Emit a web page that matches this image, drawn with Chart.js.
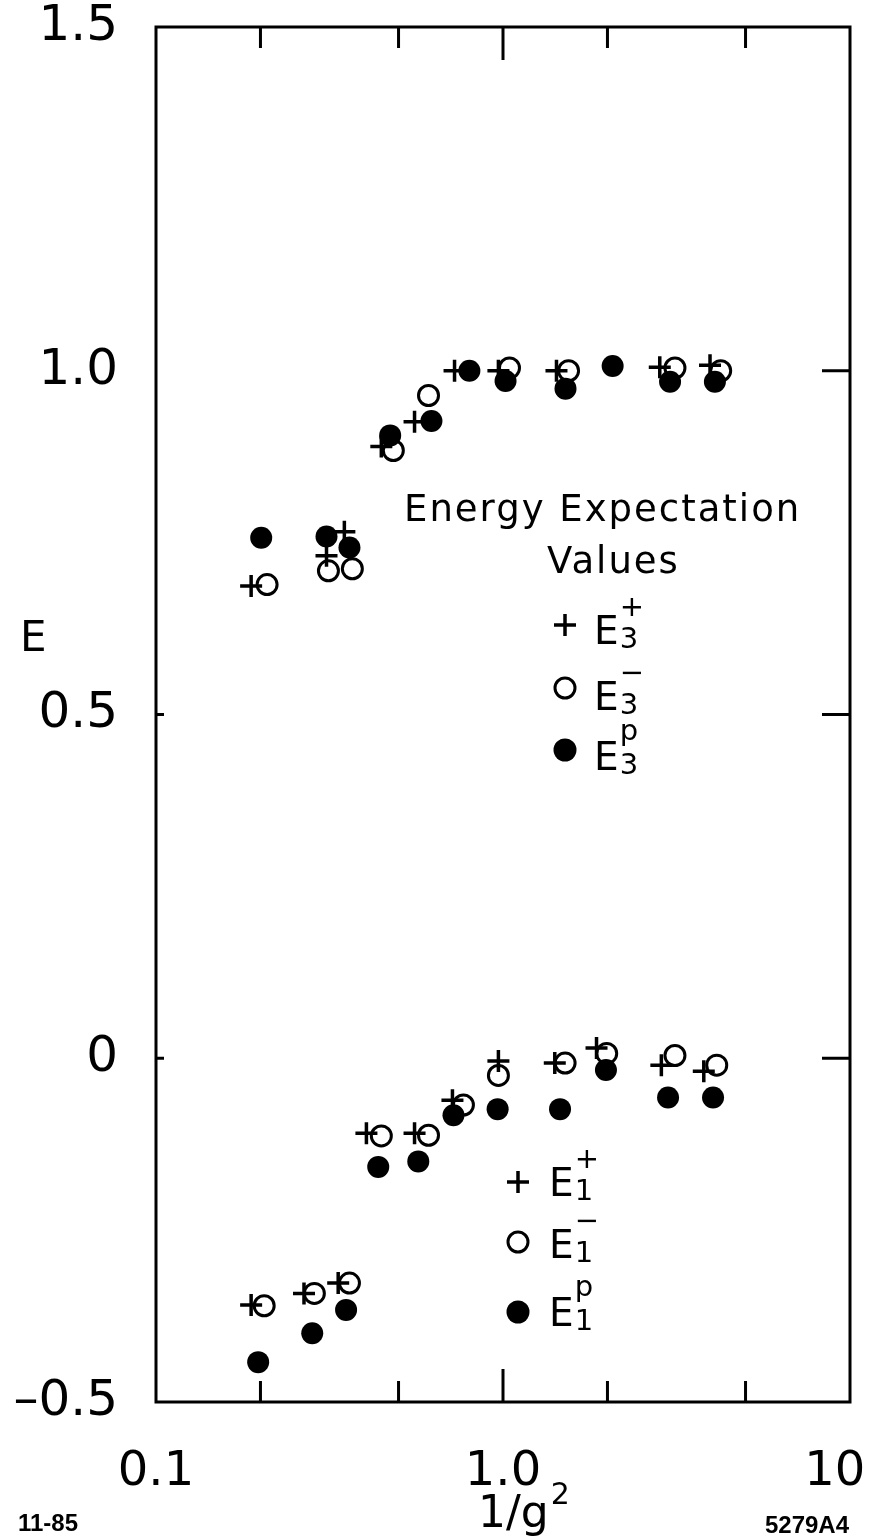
<!DOCTYPE html>
<html><head><meta charset="utf-8">
<script src="https://cdn.jsdelivr.net/npm/chart.js@4/dist/chart.umd.min.js"></script>
<style>html,body{margin:0;padding:0;background:#fff}canvas{display:block}</style>
</head><body>
<canvas id="c" width="871" height="1540"></canvas>
<script>
// ---- data ----
const e3PlusX  = [0.188, 0.310, 0.349, 0.446, 0.556, 0.725, 0.970, 1.426, 2.83, 3.95];
const e3PlusY  = [0.687, 0.731, 0.766, 0.890, 0.926, 1.000, 1.000, 1.000, 1.005, 1.008];
const e3MinusX = [0.209, 0.314, 0.368, 0.483, 0.610, 1.044, 1.545, 3.13, 4.24];
const e3MinusY = [0.689, 0.709, 0.712, 0.884, 0.964, 1.004, 1.000, 1.004, 1.000];
const e3PX     = [0.201, 0.310, 0.361, 0.473, 0.622, 0.800, 1.017, 1.514, 2.07, 3.03, 4.08];
const e3PY     = [0.757, 0.759, 0.743, 0.906, 0.927, 1.000, 0.985, 0.974, 1.007, 0.984, 0.984];

const e1PlusX  = [0.188, 0.267, 0.335, 0.404, 0.556, 0.715, 0.970, 1.41, 1.86, 2.86, 3.79];
const e1PlusY  = [-0.359, -0.342, -0.327, -0.109, -0.109, -0.061, -0.004, -0.007, 0.015, -0.010, -0.019];
const e1MinusX = [0.205, 0.286, 0.361, 0.446, 0.610, 0.769, 0.970, 1.51, 1.99, 3.13, 4.13];
const e1MinusY = [-0.360, -0.342, -0.327, -0.113, -0.112, -0.068, -0.025, -0.007, 0.007, 0.004, -0.010];
const e1PX     = [0.197, 0.282, 0.353, 0.437, 0.570, 0.720, 0.965, 1.46, 1.98, 2.99, 4.03];
const e1PY     = [-0.442, -0.400, -0.366, -0.158, -0.150, -0.083, -0.074, -0.074, -0.017, -0.057, -0.057];

const xTickValues  = [0.1, 0.2, 0.5, 1, 2, 5, 10];
const xMajorTicks  = [1];
const xLabelValues = [0.1, 1, 10];
const xLabelTexts  = ['0.1', '1.0', '10\u00a0\u00a0'];
const yTickValues  = [-0.5, 0, 0.5, 1, 1.5];
const yTickLabels  = ['\u20130.5', '0', '0.5', '1.0', '1.5'];
const yRightTicks  = [0, 0.5, 1];
const yLeftTicks   = [0, 0.5];

const legendTitle = ['Energy Expectation', 'Values'];
const legend3 = [{sym:'plus', sup:'+', sub:'3'}, {sym:'open', sup:'\u2212', sub:'3'}, {sym:'fill', sup:'p', sub:'3'}];
const legend1 = [{sym:'plus', sup:'+', sub:'1'}, {sym:'open', sup:'\u2212', sub:'1'}, {sym:'fill', sup:'p', sub:'1'}];

const pts = (xs, ys) => xs.map((x, i) => ({x, y: ys[i]}));
const FONT = "'DejaVu Sans', sans-serif";

const plusStyle = {pointStyle:'cross', pointRadius:11, borderWidth:3.5, borderColor:'#000', backgroundColor:'#000', order:0};
const openStyle = {pointStyle:'circle', pointRadius:10, borderWidth:3, borderColor:'#000', backgroundColor:'rgba(0,0,0,0)', order:2};
const fillStyle = {pointStyle:'circle', pointRadius:11, borderWidth:0, borderColor:'#000', backgroundColor:'#000', order:1};

function drawSym(ctx, sym, x, y) {
  ctx.save();
  ctx.strokeStyle = '#000'; ctx.fillStyle = '#000';
  if (sym === 'plus') {
    ctx.lineWidth = 3.5;
    ctx.beginPath(); ctx.moveTo(x - 11, y); ctx.lineTo(x + 11, y);
    ctx.moveTo(x, y - 11); ctx.lineTo(x, y + 11); ctx.stroke();
  } else if (sym === 'open') {
    ctx.lineWidth = 3;
    ctx.beginPath(); ctx.arc(x, y, 10, 0, Math.PI * 2); ctx.stroke();
  } else {
    ctx.beginPath(); ctx.arc(x, y, 11.5, 0, Math.PI * 2); ctx.fill();
  }
  ctx.restore();
}

function drawEntry(ctx, e, mx, my, ex, eTop) {
  drawSym(ctx, e.sym, mx, my);
  ctx.save();
  ctx.fillStyle = '#000';
  ctx.textBaseline = 'alphabetic';
  ctx.textAlign = 'left';
  ctx.font = '39px ' + FONT;
  const base = eTop + 29;
  ctx.fillText('E', ex, base);
  const w = ctx.measureText('E').width;
  ctx.font = '29px ' + FONT;
  ctx.fillText(e.sub, ex + w + 1, base + 4);
  ctx.fillText(e.sup, ex + w + 1, eTop + (e.sup === 'p' ? -1 : 1));
  ctx.restore();
}

const deco = {
  id: 'deco',
  beforeDatasetsDraw(chart) {
    const {ctx, chartArea: a, scales: {x, y}} = chart;
    ctx.save();
    ctx.strokeStyle = '#000';
    ctx.lineWidth = 3;
    ctx.strokeRect(a.left, a.top, a.right - a.left, a.bottom - a.top);
    ctx.beginPath();
    xTickValues.forEach(v => {
      if (v <= x.min || v >= x.max) return;
      const px = x.getPixelForValue(v);
      const len = xMajorTicks.includes(v) ? 33 : 21;
      ctx.moveTo(px, a.top); ctx.lineTo(px, a.top + len);
      ctx.moveTo(px, a.bottom); ctx.lineTo(px, a.bottom - len);
    });
    yRightTicks.forEach(v => {
      const py = y.getPixelForValue(v);
      ctx.moveTo(a.right, py); ctx.lineTo(a.right - 28, py);
    });
    yLeftTicks.forEach(v => {
      const py = y.getPixelForValue(v);
      ctx.moveTo(a.left, py); ctx.lineTo(a.left + 8, py);
    });
    ctx.stroke();
    ctx.restore();
  },
  afterDraw(chart) {
    const {ctx} = chart;
    ctx.save();
    ctx.fillStyle = '#000';
    // y axis label
    ctx.font = '42px ' + FONT;
    ctx.textAlign = 'left'; ctx.textBaseline = 'alphabetic';
    ctx.fillText('E', 20, 651);
    // x axis title 1/g^2
    ctx.font = '44px ' + FONT;
    const t = '1/g';
    const tw = ctx.measureText(t).width;
    const tx = 478;
    ctx.fillText(t, tx, 1527);
    ctx.font = '30px ' + FONT;
    ctx.fillText('2', tx + tw + 2, 1504);
    // footnotes
    ctx.font = "bold 24px 'Liberation Sans', sans-serif";
    ctx.fillText('11-85', 18, 1531);
    ctx.textAlign = 'right';
    ctx.fillText('5279A4', 849, 1533);
    // legend title
    ctx.textAlign = 'left';
    ctx.font = '37px ' + FONT;
    ctx.letterSpacing = '2px';
    ctx.fillText(legendTitle[0], 404, 521);
    ctx.fillText(legendTitle[1], 547, 573);
    ctx.letterSpacing = '0px';
    ctx.restore();
    // legend entries
    const e3Tops = [615, 681, 741], e3My = [625, 688, 750];
    legend3.forEach((e, i) => drawEntry(ctx, e, 565, e3My[i], 594, e3Tops[i]));
    const e1Tops = [1167, 1229, 1297], e1My = [1182, 1242, 1312];
    legend1.forEach((e, i) => drawEntry(ctx, e, 518, e1My[i], 549, e1Tops[i]));
  }
};

new Chart(document.getElementById('c'), {
  type: 'scatter',
  data: {
    datasets: [
      Object.assign({label:'E3+', data: pts(e3PlusX, e3PlusY)}, plusStyle),
      Object.assign({label:'E3-', data: pts(e3MinusX, e3MinusY)}, openStyle),
      Object.assign({label:'E3p', data: pts(e3PX, e3PY)}, fillStyle),
      Object.assign({label:'E1+', data: pts(e1PlusX, e1PlusY)}, plusStyle),
      Object.assign({label:'E1-', data: pts(e1MinusX, e1MinusY)}, openStyle),
      Object.assign({label:'E1p', data: pts(e1PX, e1PY)}, fillStyle)
    ]
  },
  options: {
    responsive: false,
    animation: false,
    devicePixelRatio: 1,
    layout: {padding: {top: 27, right: 21, left: 0, bottom: 0}},
    plugins: {legend: {display: false}, tooltip: {enabled: false}, title: {display: false}},
    elements: {point: {hoverRadius: 11}},
    scales: {
      x: {
        type: 'logarithmic', position: 'bottom', min: 0.1, max: 10,
        grid: {display: false, drawTicks: false}, border: {display: false},
        afterBuildTicks: s => { s.ticks = xTickValues.map(v => ({value: v})); },
        afterFit: s => { s.height = 138; s.paddingLeft = 0; s.paddingRight = 0; s.paddingTop = 0; s.paddingBottom = 0; },
        ticks: {
          autoSkip: false, maxRotation: 0, minRotation: 0, padding: 42, color: '#000',
          font: {family: FONT, size: 48},
          callback: v => { const i = xLabelValues.indexOf(v); return i >= 0 ? xLabelTexts[i] : ''; }
        }
      },
      y: {
        type: 'linear', min: -0.5, max: 1.5,
        grid: {display: false, drawTicks: false}, border: {display: false},
        afterBuildTicks: s => { s.ticks = yTickValues.map(v => ({value: v})); },
        afterFit: s => { s.width = 156; s.paddingLeft = 0; s.paddingRight = 0; s.paddingTop = 0; s.paddingBottom = 0; },
        ticks: {
          autoSkip: false, padding: 38, color: '#000',
          font: {family: FONT, size: 50},
          callback: v => { const i = yTickValues.indexOf(v); return i >= 0 ? yTickLabels[i] : ''; }
        }
      }
    }
  },
  plugins: [deco]
});
</script>
</body></html>
